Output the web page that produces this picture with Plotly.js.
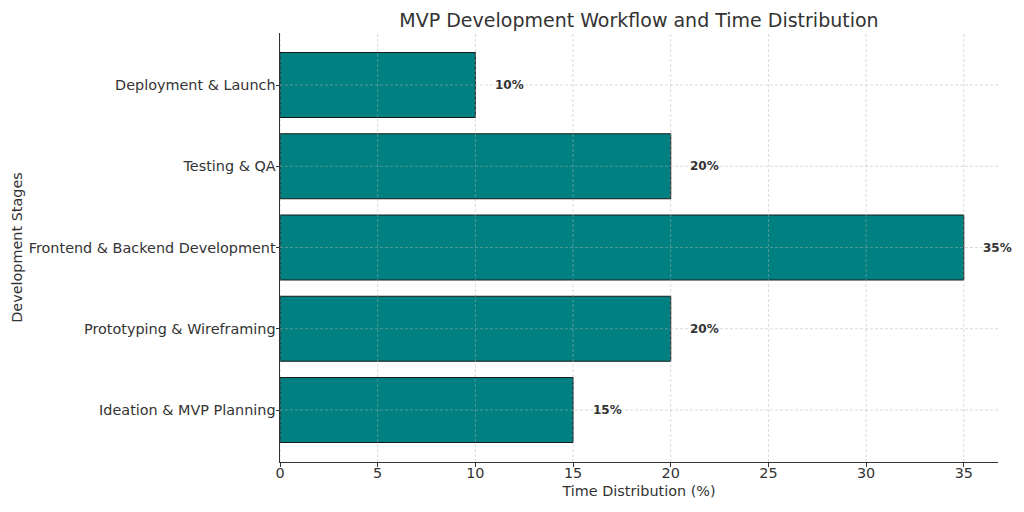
<!DOCTYPE html>
<html>
<head>
<meta charset="utf-8">
<script src="https://cdn.plot.ly/plotly-3.0.1.min.js"></script>
<style>html,body{margin:0;padding:0;background:#fff;}#chart{width:1024px;height:512px;}</style>
</head>
<body>
<div id="chart"></div>
<script>
const stages = ["Ideation & MVP Planning", "Prototyping & Wireframing", "Frontend & Backend Development", "Testing & QA", "Deployment & Launch"];
const timeShare = [15, 20, 35, 20, 10];
const labels = ["15%", "20%", "35%", "20%", "10%"];
const xTicks = [0, 5, 10, 15, 20, 25, 30, 35];

const font = "DejaVu Sans, sans-serif";
const textColor = "#333333";

const trace = {
  type: "bar",
  orientation: "h",
  y: stages,
  x: timeShare,
  width: 0.8,
  marker: {color: "#008080", line: {color: "#1a1a1a", width: 1}},
  hoverinfo: "skip"
};

const annotations = stages.map((s, i) => ({
  x: timeShare[i] + 0.9,
  y: s,
  xref: "x",
  yref: "y",
  text: labels[i],
  showarrow: false,
  xanchor: "left",
  yanchor: "middle",
  font: {family: font, size: 12, color: textColor, weight: "bold"}
}));

const gridStyle = {color: "rgba(176,176,176,0.6)", width: 0.8, dash: "3px,2px"};
const shapes = [];
xTicks.forEach(t => {
  shapes.push({type: "line", xref: "x", yref: "paper", x0: t, x1: t, y0: 0, y1: 1, layer: "above", line: gridStyle});
});
stages.forEach(s => {
  shapes.push({type: "line", xref: "paper", yref: "y", x0: 0, x1: 1, y0: s, y1: s, layer: "above", line: gridStyle});
});

const layout = {
  width: 1024,
  height: 512,
  margin: {l: 280, r: 26, t: 33, b: 50},
  paper_bgcolor: "#ffffff",
  plot_bgcolor: "#ffffff",
  showlegend: false,
  font: {family: font, color: textColor, size: 14.4},
  title: {text: "MVP Development Workflow and Time Distribution", x: 0.5, xref: "paper", yref: "container", y: 1 - 20/512, yanchor: "middle", font: {family: font, size: 19, color: textColor}},
  xaxis: {
    range: [0, 36.75],
    tickvals: xTicks,
    ticktext: xTicks.map(String),
    showgrid: false,
    zeroline: false,
    showline: true,
    linecolor: "#333333",
    linewidth: 1,
    ticks: "outside",
    ticklen: 3.5,
    tickcolor: "#333333",
    ticklabelstandoff: -6,
    tickfont: {family: font, size: 14.4, color: textColor},
    title: {text: "Time Distribution (%)", standoff: 6, font: {family: font, size: 14.4, color: textColor}}
  },
  yaxis: {
    range: [-0.64, 4.64],
    categoryorder: "array",
    categoryarray: stages,
    showgrid: false,
    zeroline: false,
    showline: true,
    linecolor: "#333333",
    linewidth: 1,
    ticks: "outside",
    ticklen: 3.5,
    tickcolor: "#333333",
    ticklabelstandoff: -3,
    tickfont: {family: font, size: 14.4, color: textColor},
    title: {text: "Development Stages", standoff: 2, font: {family: font, size: 14.4, color: textColor}}
  },
  annotations: annotations,
  shapes: shapes
};

Plotly.newPlot("chart", [trace], layout, {displayModeBar: false, staticPlot: true});
</script>
</body>
</html>
